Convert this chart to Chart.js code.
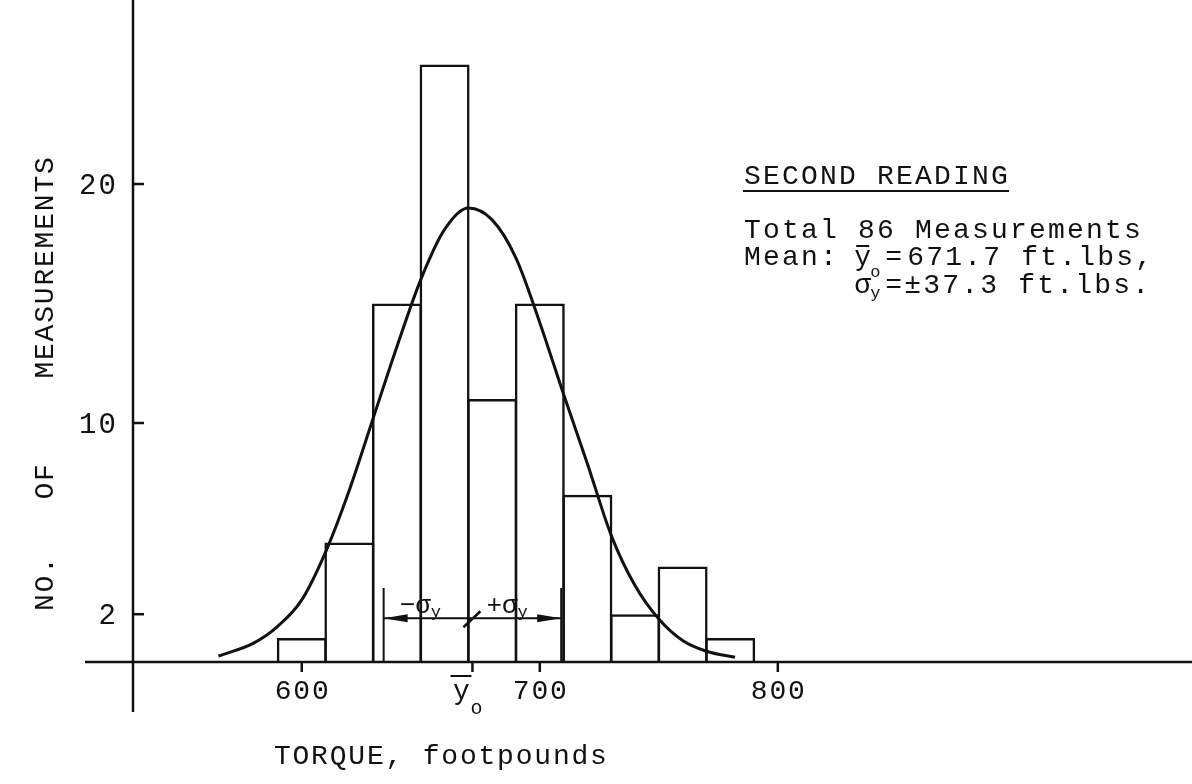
<!DOCTYPE html>
<html><head><meta charset="utf-8">
<script src="https://cdn.jsdelivr.net/npm/chart.js@4"></script>
<style>html,body{margin:0;padding:0;background:#fff}#wrap{width:1192px;height:784px;position:relative}</style>
</head><body><div id="wrap"><canvas id="c" width="1192" height="784"></canvas></div>
<script>
// ---- data ----
const binCenters = [600, 620, 640, 660, 680, 700, 720, 740, 760, 780];
const counts = [1, 5, 15, 25, 11, 15, 7, 2, 4, 1];
const curveX = [565, 580, 590, 600, 610, 620, 630, 640, 650, 660, 670, 680, 690, 700, 710, 720, 730, 740, 750, 760, 770, 782];
const curveY = [0.25, 0.8, 1.5, 2.6, 4.6, 7.2, 10.2, 13.2, 16.0, 18.1, 19.0, 18.5, 16.9, 14.2, 11.2, 8.3, 5.3, 3.2, 1.8, 0.9, 0.45, 0.2];
const xTicks = [600, 700, 800];
const yTicks = [2, 10, 20];
const meanValue = 671.7;
const sigmaValue = 37.3;
const totalCount = 86;
const xTitle = 'TORQUE, footpounds';
const yTitleWords = ['NO.', 'OF', 'MEASUREMENTS'];
const boxTitle = 'SECOND READING';

const INK = '#111';
const FONT = '"Liberation Mono", "Courier New", monospace';
const PITCH = 18.6;
const BOX_PITCH = 19;

function mono(ctx, text, x, y, pitch) {
  const a = ctx.textAlign;
  ctx.textAlign = 'center';
  for (let i = 0; i < text.length; i++) ctx.fillText(text[i], x + i * pitch + pitch / 2, y);
  ctx.textAlign = a;
  return x + text.length * pitch;
}

const overlay = {
  id: 'overlay',
  afterDatasetsDraw(chart) {
    const {ctx, scales: {x, y}, chartArea} = chart;
    const px = v => x.getPixelForValue(v), py = v => y.getPixelForValue(v);
    const x0 = px(x.min), y0 = py(0);
    ctx.save();
    ctx.strokeStyle = INK; ctx.fillStyle = INK; ctx.lineWidth = 2.5; ctx.lineCap = 'butt';
    // axis lines (extended past the plot)
    ctx.beginPath();
    ctx.moveTo(85, y0); ctx.lineTo(chartArea.right, y0);
    ctx.moveTo(x0, 0); ctx.lineTo(x0, 712);
    ctx.stroke();
    // y tick marks (inside)
    yTicks.forEach(v => { ctx.beginPath(); ctx.moveTo(x0, py(v)); ctx.lineTo(x0 + 11, py(v)); ctx.stroke(); });
    // x tick marks (below)
    xTicks.concat([meanValue]).forEach(v => { ctx.beginPath(); ctx.moveTo(px(v), y0); ctx.lineTo(px(v), y0 + 10); ctx.stroke(); });
    // sigma markers
    const lo = px(meanValue - sigmaValue), hi = px(meanValue + sigmaValue), mid = px(meanValue);
    const ay = py(1.83), top = py(3.1);
    ctx.lineWidth = 2;
    ctx.beginPath();
    ctx.moveTo(lo, top); ctx.lineTo(lo, y0);
    ctx.moveTo(hi, top); ctx.lineTo(hi, y0);
    ctx.moveTo(lo, ay); ctx.lineTo(hi, ay);
    ctx.stroke();
    ctx.beginPath(); ctx.moveTo(lo, ay); ctx.lineTo(lo + 24, ay - 4); ctx.lineTo(lo + 24, ay + 4); ctx.closePath(); ctx.fill();
    ctx.beginPath(); ctx.moveTo(hi, ay); ctx.lineTo(hi - 24, ay - 4); ctx.lineTo(hi - 24, ay + 4); ctx.closePath(); ctx.fill();
    ctx.lineWidth = 2.5;
    ctx.beginPath(); ctx.moveTo(mid - 9, ay + 9); ctx.lineTo(mid + 8, ay - 7); ctx.stroke();
    // sigma labels
    ctx.textBaseline = 'alphabetic'; ctx.textAlign = 'left';
    ctx.font = '26px ' + FONT;
    ctx.fillText('−σ', lo + 16, ay - 5);
    ctx.fillText('+σ', mid + 14, ay - 5);
    ctx.font = '17px ' + FONT;
    ctx.fillText('y', lo + 47, ay - 1);
    ctx.fillText('y', mid + 45, ay - 1);
    // x tick labels
    ctx.font = '28px ' + FONT; ctx.textBaseline = 'alphabetic';
    xTicks.forEach(v => mono(ctx, String(v), px(v) - 1.5 * PITCH, y0 + 37, PITCH));
    // mean label (y-bar, subscript o)
    ctx.textAlign = 'center';
    ctx.fillText('y', mid - 11, y0 + 37);
    ctx.beginPath(); ctx.lineWidth = 2; ctx.moveTo(mid - 22, y0 + 14); ctx.lineTo(mid - 1, y0 + 14); ctx.stroke();
    ctx.font = '20px ' + FONT; ctx.fillText('o', mid + 4, y0 + 52);
    // y tick labels
    ctx.font = '29px ' + FONT;
    yTicks.forEach(v => { const s = String(v); mono(ctx, s, 117 - s.length * 19.5, py(v) + 10, 19.5); });
    // x axis title
    ctx.font = '28px ' + FONT; ctx.textAlign = 'left';
    mono(ctx, xTitle, 273, 764, PITCH);
    // y axis title (rotated, reads bottom to top)
    ctx.save(); ctx.translate(53, 612); ctx.rotate(-Math.PI / 2);
    let cx = 0;
    yTitleWords.forEach((w, i) => { cx = mono(ctx, w, cx, 0, PITCH) + (i === 0 ? 3 * PITCH : 4.5 * PITCH); });
    ctx.restore();
    // info block
    const bx = 743, P = BOX_PITCH;
    const b1 = 238, b2 = 265, b3 = 293;
    ctx.font = '28px ' + FONT;
    const e = mono(ctx, boxTitle, bx, 184, P);
    ctx.lineWidth = 2; ctx.beginPath(); ctx.moveTo(bx, 191); ctx.lineTo(e, 191); ctx.stroke();
    mono(ctx, 'Total ' + totalCount + ' Measurements', bx, b1, P);
    mono(ctx, 'Mean:', bx, b2, P);
    const yb = bx + 5.8 * P;
    mono(ctx, 'y', yb, b2, P);
    ctx.beginPath(); ctx.moveTo(yb + 3, b2 - 19); ctx.lineTo(yb + 16, b2 - 19); ctx.stroke();
    mono(ctx, '=', yb + 31, b2, P);
    mono(ctx, meanValue.toFixed(1) + ' ft.lbs,', yb + 53, b2, P);
    mono(ctx, 'σ', yb, b3, P);
    ctx.font = '17px ' + FONT; ctx.textAlign = 'left';
    ctx.fillText('o', yb + 17, b2 + 12); ctx.fillText('y', yb + 17, b3 + 5);
    ctx.font = '28px ' + FONT;
    mono(ctx, '=', yb + 31, b3, P);
    mono(ctx, '±' + sigmaValue.toFixed(1) + ' ft.lbs.', yb + 50, b3, P);
    ctx.restore();
  }
};

new Chart(document.getElementById('c'), {
  type: 'bar',
  data: {
    datasets: [
      {
        type: 'line',
        data: curveX.map((v, i) => ({x: v, y: curveY[i]})),
        borderColor: INK, borderWidth: 3, pointRadius: 0,
        cubicInterpolationMode: 'monotone', fill: false, order: 0
      },
      {
        type: 'bar',
        data: binCenters.map((v, i) => ({x: v, y: counts[i]})),
        backgroundColor: 'rgba(255,255,255,0)', borderColor: INK, borderWidth: 2.5,
        borderSkipped: 'start', barPercentage: 1.05, categoryPercentage: 1, order: 1
      }
    ]
  },
  options: {
    responsive: false, animation: false, devicePixelRatio: 1,
    layout: {padding: {left: 133, right: 0, top: 0, bottom: 122}},
    plugins: {legend: {display: false}, tooltip: {enabled: false}, title: {display: false}},
    scales: {
      x: {type: 'linear', display: false, offset: false, min: 529.1, max: 974.0},
      y: {type: 'linear', display: false, offset: false, min: 0, max: 27.7}
    }
  },
  plugins: [overlay]
});
</script></body></html>
